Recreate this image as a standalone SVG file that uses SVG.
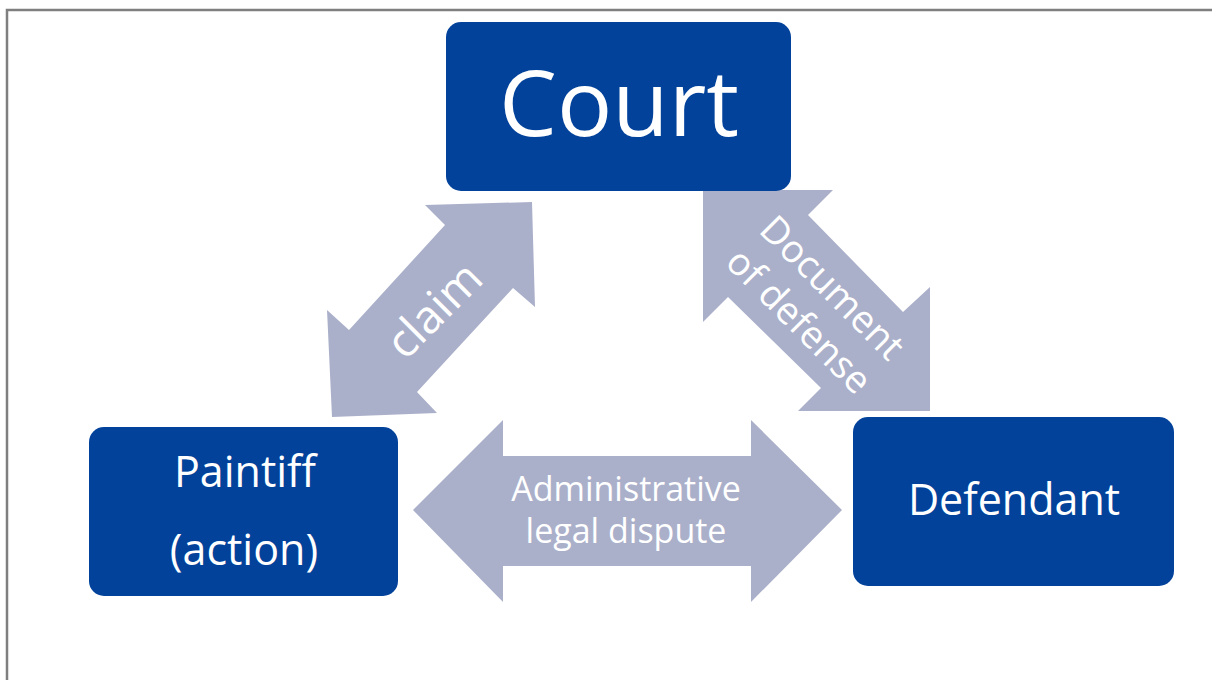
<svg xmlns="http://www.w3.org/2000/svg" width="1212" height="680" viewBox="0 0 1212 680">
<style>
.box{fill:#02429b;}
.arr{fill:#abb0ca;}
.t{font-family:"Open Sans","Liberation Sans",sans-serif;fill:#ffffff;text-anchor:middle;}
.frame{stroke:#7f7f7f;stroke-width:2.5;fill:none;}
</style>
<rect width="1212" height="680" fill="#ffffff"/>
<path class="frame" d="M7 680 V10 H1212"/>
<g id="connectors">
  <g id="claim-arrow">
    <polygon class="arr" points="532,202 535,307 513,288 417,392 437,413 332,417 327,310 349,330 445,225 425,205"/>
    <text class="t" font-size="46" transform="translate(434,310) rotate(-45)" y="16">claim</text>
  </g>
  <g id="defense-arrow">
    <polygon class="arr" points="703,190 833,190 808,215 903,312 930,287 930,411 798,411 821,388 728,297 703,322"/>
    <g transform="translate(816,304) rotate(45)">
      <text class="t" font-size="38" y="-10">Document</text>
      <text class="t" font-size="38" y="37">of defense</text>
    </g>
  </g>
  <g id="dispute-arrow">
    <polygon class="arr" points="413,510 503,420 503,456 751,456 751,420 842,510 751,602 751,566 503,566 503,602"/>
    <text class="t" font-size="34" x="626" y="501">Administrative</text>
    <text class="t" font-size="34" x="626" y="543">legal dispute</text>
  </g>
</g>
<g id="court">
  <rect class="box" x="446" y="22" width="345" height="169" rx="15"/>
  <text class="t" font-size="92" x="619" y="136">Court</text>
</g>
<g id="plaintiff">
  <rect class="box" x="89" y="427" width="309" height="169" rx="15"/>
  <text class="t" font-size="43" x="245" y="487">Paintiff</text>
  <text class="t" font-size="43" x="244" y="565">(action)</text>
</g>
<g id="defendant">
  <rect class="box" x="853" y="417" width="321" height="169" rx="15"/>
  <text class="t" font-size="43" x="1014" y="515">Defendant</text>
</g>
</svg>
